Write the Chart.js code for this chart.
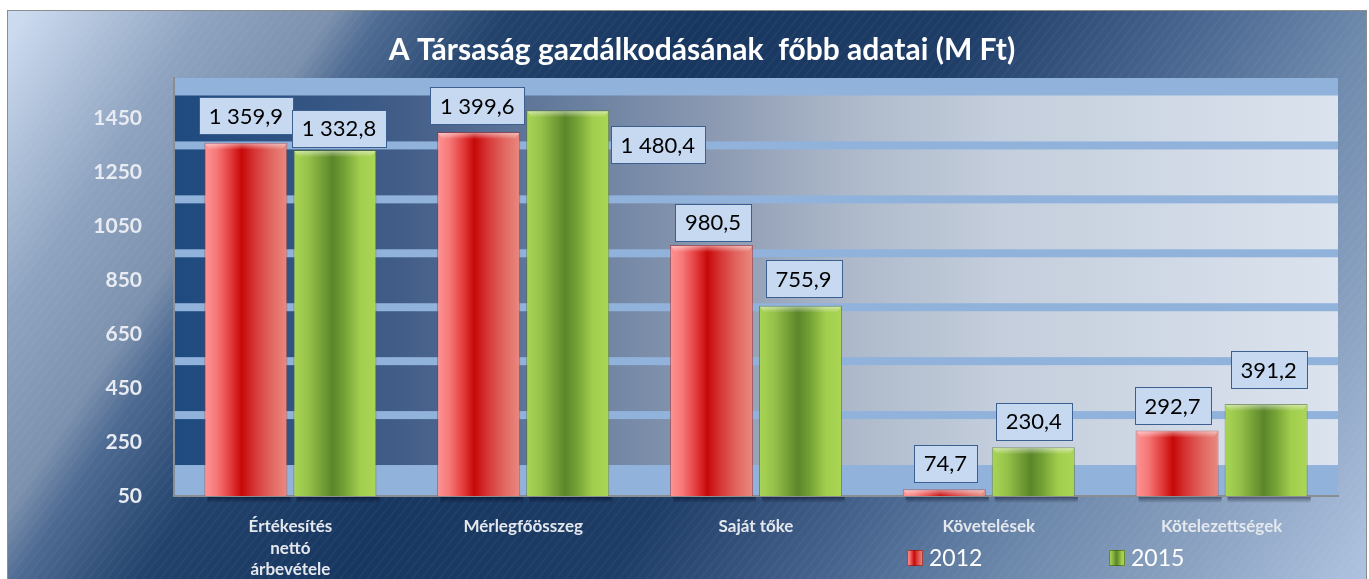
<!DOCTYPE html>
<html><head><meta charset="utf-8">
<script src="https://cdn.jsdelivr.net/npm/chart.js@4"></script>
<style>
html,body{margin:0;padding:0;background:#fff;width:1369px;height:579px;overflow:hidden}
#wrap{position:absolute;left:7px;top:10px;border:1px solid #8c8c8c;width:1358px;height:580px}
canvas{display:block}
</style></head><body>
<div id="wrap"><canvas id="c" width="1358" height="569"></canvas></div>
<script>
// ---- data ----
const categories = [["Értékesítés","nettó","árbevétele"],"Mérlegfőösszeg","Saját tőke","Követelések","Kötelezettségek"];
const seriesNames = ["2012","2015"];
const values2012 = [1359.9,1399.6,980.5,74.7,292.7];
const values2015 = [1332.8,1480.4,755.9,230.4,391.2];
const yTickValues = [50,250,450,650,850,1050,1250,1450];
const titleText = "A Társaság gazdálkodásának  főbb adatai (M Ft)";

// ---- styling / layout constants ----
const Y_MIN = 50, Y_MAX = 1600;
const bandEdges = [150,350,550,750,950,1150,1350,1550];
const CAT_PCT = 0.765, BAR_PCT = 0.933;
// label box offsets relative to bar (dx from bar center, dy of box center from bar top)
const labelOffsets2012 = [[0,-27],[-1.5,-26.5],[1.5,-23],[1,-26],[-4.5,-25]];
const labelOffsets2015 = [[4,-22],[90,34.5],[3,-27],[0.5,-26],[2.5,-34]];
const redStops = [[0,'#ff9494'],[0.15,'#f67878'],[0.32,'#e23a3a'],[0.45,'#c70808'],[0.6,'#d63434'],[0.8,'#e06660'],[1,'#e98a80']];
const greenStops = [[0,'#aad656'],[0.18,'#96c24a'],[0.35,'#749f36'],[0.47,'#5b8629'],[0.62,'#76a336'],[0.8,'#a2ce4e'],[1,'#abd655']];
const FONT = 'Lato, "Open Sans", sans-serif';

function fmt(v){
  const s = v.toFixed(1).split('.');
  const int = s[0].replace(/\B(?=(\d{3})+(?!\d))/g,' ');
  return int + ',' + s[1];
}
function barBounds(chart, index, dsIndex){
  const xs = chart.scales.x;
  const catW = xs.width / categories.length;
  const group = catW * CAT_PCT;
  const slot = group / 2;
  const center = xs.getPixelForValue(index) - group/2 + slot*(dsIndex+0.5);
  const w = slot * BAR_PCT;
  return {left: center - w/2, width: w};
}
function hGrad(ctx, left, width, stops){
  const g = ctx.createLinearGradient(left,0,left+width,0);
  stops.forEach(s=>g.addColorStop(s[0],s[1]));
  return g;
}
function barFill(stops, solid){
  return (context)=>{
    const chart = context.chart;
    if(context.type!=='data' || !chart.scales.x) return solid;
    const b = barBounds(chart, context.dataIndex, context.datasetIndex);
    if(!isFinite(b.left)) return solid;
    return hGrad(chart.ctx, b.left, b.width, stops);
  };
}

const bgPlugin = {
  id:'bg',
  beforeDraw(chart){
    const ctx = chart.ctx, W = chart.width, H = chart.height;
    ctx.save();
    const g = ctx.createLinearGradient(-8,-11,1250,806);
    [[0,'#d0def2'],[0.02,'#cad9ee'],[0.12,'#8ea3c0'],[0.19,'#7c91ae'],[0.22,'#4d6a92'],[0.29,'#22426b'],
     [0.40,'#183760'],[0.55,'#1d3c66'],[0.68,'#4a6791'],[0.77,'#6c88ab'],[0.87,'#8ba2c1'],[0.96,'#a9bfdc'],[1,'#b2c6e0']]
     .forEach(s=>g.addColorStop(s[0],s[1]));
    ctx.fillStyle = g;
    ctx.fillRect(0,0,W,H);
    // faint diagonal stripes
    ctx.strokeStyle = 'rgba(255,255,255,0.035)';
    ctx.lineWidth = 2;
    for(let x=-H; x<W; x+=9){
      ctx.beginPath(); ctx.moveTo(x,H); ctx.lineTo(x+H*0.8,0); ctx.stroke();
    }
    // plot area
    const a = chart.chartArea, ys = chart.scales.y;
    ctx.fillStyle = '#91b2db';
    ctx.fillRect(a.left,a.top,a.right-a.left,a.bottom-a.top);
    const dg = ctx.createLinearGradient(a.left,0,a.right,0);
    [[0,'#1e4a7f'],[0.19,'#415c87'],[0.34,'#687e9f'],[0.47,'#8d9bb3'],[0.58,'#adb9ca'],[0.71,'#c4cedc'],[1,'#dbe3ee']]
     .forEach(s=>dg.addColorStop(s[0],s[1]));
    ctx.fillStyle = dg;
    const half = 4;
    for(let i=0;i<bandEdges.length-1;i++){
      const yb = ys.getPixelForValue(bandEdges[i]) - half;
      const yt = ys.getPixelForValue(bandEdges[i+1]) + half;
      ctx.fillRect(a.left, yt, a.right-a.left, yb-yt);
    }
    ctx.restore();
  },
  afterDatasetsDraw(chart){
    const ctx = chart.ctx, a = chart.chartArea;
    ctx.save();
    chart.data.datasets.forEach((ds,di)=>{
      const meta = chart.getDatasetMeta(di);
      meta.data.forEach((el,i)=>{
        const p = el.getProps(['x','y','base','width'],true);
        const l = p.x - p.width/2, r = p.x + p.width/2;
        const hg = ctx.createLinearGradient(0,p.y,0,p.y+7);
        hg.addColorStop(0,'rgba(255,255,255,0.55)');
        hg.addColorStop(1,'rgba(255,255,255,0)');
        ctx.fillStyle = hg;
        ctx.beginPath();
        ctx.moveTo(l+1,p.y+1); ctx.lineTo(r-1,p.y+1); ctx.lineTo(r-5,p.y+7); ctx.lineTo(l+5,p.y+7); ctx.closePath();
        ctx.fill();
        const sg = ctx.createLinearGradient(0,a.bottom+1,0,a.bottom+7);
        sg.addColorStop(0,'rgba(0,0,20,0.45)');
        sg.addColorStop(1,'rgba(0,0,20,0)');
        ctx.fillStyle = sg;
        ctx.fillRect(l+3,a.bottom+1,p.width,6);
      });
    });
    ctx.font = '22px ' + FONT;
    ctx.textAlign = 'center';
    ctx.textBaseline = 'middle';
    chart.data.datasets.forEach((ds,di)=>{
      const meta = chart.getDatasetMeta(di);
      const offs = di===0 ? labelOffsets2012 : labelOffsets2015;
      meta.data.forEach((el,i)=>{
        const p = el.getProps(['x','y'],true);
        const txt = fmt(ds.data[i]);
        const tw = ctx.measureText(txt).width;
        const bw = Math.round(tw + 20), bh = 37;
        const cx = p.x + offs[i][0], cy = p.y + offs[i][1];
        const bx = Math.round(cx - bw/2)+0.5, by = Math.round(cy - bh/2)+0.5;
        ctx.fillStyle = '#c6d9f1';
        ctx.fillRect(bx,by,bw,bh);
        ctx.strokeStyle = '#3b5f8e';
        ctx.lineWidth = 1;
        ctx.strokeRect(bx,by,bw,bh);
        ctx.fillStyle = '#000';
        ctx.fillText(txt, cx, cy+1);
      });
    });
    ctx.restore();
  },
  afterDraw(chart){
    const ctx = chart.ctx;
    ctx.save();
    ctx.font = 'bold 30px ' + FONT;
    ctx.fillStyle = '#ffffff';
    ctx.textAlign = 'center';
    ctx.textBaseline = 'middle';
    ctx.fillText(titleText, 694, 39);
    const legendX = [899, 1101];
    const legendY = 547;
    chart.data.datasets.forEach((ds,di)=>{
      const x = legendX[di];
      const stops = di===0 ? redStops : greenStops;
      ctx.fillStyle = hGrad(ctx, x, 16, stops);
      ctx.fillRect(x, legendY-8, 16, 16);
      ctx.strokeStyle = di===0 ? 'rgba(120,20,20,0.6)' : 'rgba(60,90,20,0.6)';
      ctx.lineWidth = 1;
      ctx.strokeRect(x+0.5, legendY-7.5, 15, 15);
      ctx.fillStyle = '#ffffff';
      ctx.font = '23px ' + FONT;
      ctx.textAlign = 'left';
      ctx.fillText(ds.label, x+22, legendY+1);
    });
    ctx.restore();
  }
};

new Chart(document.getElementById('c'), {
  type:'bar',
  data:{
    labels: categories,
    datasets:[
      {label: seriesNames[0], data: values2012, backgroundColor: barFill(redStops,'#d22'), borderColor:'rgba(170,40,40,0.55)', borderWidth:1, borderSkipped:'bottom'},
      {label: seriesNames[1], data: values2015, backgroundColor: barFill(greenStops,'#8b3'), borderColor:'rgba(80,110,30,0.6)', borderWidth:1, borderSkipped:'bottom'}
    ]
  },
  options:{
    responsive:false,
    animation:false,
    devicePixelRatio:1,
    categoryPercentage: CAT_PCT,
    barPercentage: BAR_PCT,
    layout:{padding:{top:67,right:28,left:0,bottom:0}},
    plugins:{legend:{display:false}, title:{display:false}, tooltip:{enabled:false}},
    scales:{
      x:{
        grid:{display:false},
        border:{display:true,color:'#8a8d92',width:2},
        ticks:{color:'#e4e8ee',font:{family:FONT,size:17,weight:'bold',lineHeight:1.27},padding:12,maxRotation:0,autoSkip:false},
        afterFit(s){ s.height = 84; }
      },
      y:{
        min:Y_MIN, max:Y_MAX,
        grid:{display:false},
        border:{display:true,color:'#8a8d92',width:2},
        ticks:{color:'#e8ecf2',font:{family:FONT,size:21,weight:'bold'},padding:24,callback:(v)=>String(v)},
        afterBuildTicks(s){ s.ticks = yTickValues.map(v=>({value:v})); },
        afterFit(s){ s.width = 166; }
      }
    }
  },
  plugins:[bgPlugin]
});
</script>
</body></html>
